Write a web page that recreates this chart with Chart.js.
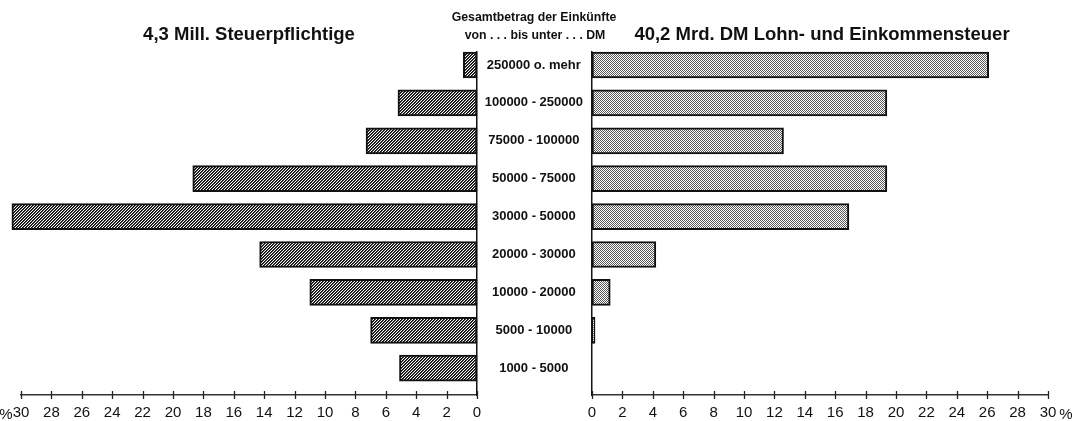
<!DOCTYPE html>
<html>
<head>
<meta charset="utf-8">
<script src="https://cdn.jsdelivr.net/npm/chart.js@4.4.1/dist/chart.umd.min.js"></script>
<style>
  html, body { margin: 0; padding: 0; background: #fff; }
  #wrap { position: relative; width: 1075px; height: 421px; overflow: hidden; background: #fff; }
  canvas { position: absolute; top: 0; }
  .t { position: absolute; color: #111; white-space: nowrap; transform: translate(-50%, -50%); }
  .title { font: bold 18.5px 'Liberation Sans', Arial, sans-serif; }
  .head { font: bold 12.3px 'Liberation Sans', Arial, sans-serif; }
  .pct { font: 15px 'Liberation Sans', Arial, sans-serif; }
</style>
</head>
<body>
<div id="wrap">
  <canvas id="left" width="492" height="421" style="left:0px"></canvas>
  <canvas id="right" width="597" height="421" style="left:478px"></canvas>
  <div class="t title" style="left:249px; top:34px">4,3 Mill. Steuerpflichtige</div>
  <div class="t title" style="left:822px; top:34px">40,2 Mrd. DM Lohn- und Einkommensteuer</div>
  <div class="t head" style="left:534px; top:17px">Gesamtbetrag der Einkünfte</div>
  <div class="t head" style="left:535px; top:35px">von . . . bis unter . . . DM</div>
  <div class="t pct" style="left:6px; top:413px">%</div>
  <div class="t pct" style="left:1066px; top:413px">%</div>
</div>
<script>
// ---- data ----
const categories = ['250000 o. mehr', '100000 - 250000', '75000 - 100000', '50000 - 75000',
  '30000 - 50000', '20000 - 30000', '10000 - 20000', '5000 - 10000', '1000 - 5000'];
const taxpayersPct = [0.9, 5.2, 7.3, 18.7, 30.6, 14.3, 11.0, 7.0, 5.1];   // 4,3 Mill. Steuerpflichtige
const taxAmountPct = [26.1, 19.4, 12.6, 19.4, 16.9, 4.2, 1.2, 0.2, 0.0];  // 40,2 Mrd. DM Steuer
const axisMin = 0, axisMax = 30, axisStep = 2;

// ---- patterns ----
function makeTile(size, fn) {
  const c = document.createElement('canvas');
  c.width = size; c.height = size;
  const g = c.getContext('2d');
  const img = g.createImageData(size, size);
  for (let y = 0; y < size; y++) for (let x = 0; x < size; x++) {
    const v = fn(x, y), k = (y * size + x) * 4;
    img.data[k] = img.data[k + 1] = img.data[k + 2] = v; img.data[k + 3] = 255;
  }
  g.putImageData(img, 0, 0);
  return c;
}
const ctxL = document.getElementById('left').getContext('2d');
const ctxR = document.getElementById('right').getContext('2d');
const hatchTile = makeTile(3, (x, y) => { const m = (x + y) % 3; return m === 0 ? 0 : (m === 1 ? 70 : 255); });
const dotTile = makeTile(2, (x, y) => ((x + y) % 2 === 0 ? 90 : 255));
const hatch = ctxL.createPattern(hatchTile, 'repeat');
const dots = ctxR.createPattern(dotTile, 'repeat');

const INK = '#111';
const tickFont = { family: "'Liberation Sans', Arial, sans-serif", size: 15, lineHeight: 1 };
const catFont = { family: "'Liberation Sans', Arial, sans-serif", size: 13, weight: 'bold', lineHeight: 1 };

// tick marks that cross the axis line
const crossTicks = {
  id: 'crossTicks',
  afterDraw(chart) {
    const s = chart.scales.x, ctx = chart.ctx, yb = chart.chartArea.bottom;
    ctx.save();
    ctx.strokeStyle = '#222'; ctx.lineWidth = 1.3;
    s.ticks.forEach(t => {
      const px = Math.round(s.getPixelForValue(t.value)) + 0.5;
      ctx.beginPath(); ctx.moveTo(px, yb - 4); ctx.lineTo(px, yb + 4); ctx.stroke();
    });
    ctx.restore();
  }
};

const yMin = -0.343, yMax = 8.707;

function zeroPad(s) { s.paddingLeft = 0; s.paddingRight = 0; s.paddingTop = 0; s.paddingBottom = 0; }

function baseOptions(reverseX, yPos, showCats) {
  return {
    responsive: false, maintainAspectRatio: false, animation: false, devicePixelRatio: 1,
    indexAxis: 'y',
    layout: reverseX ? { padding: { left: 21, right: 15, top: 52, bottom: 0 } }
                     : { padding: { left: 0, right: 27, top: 52, bottom: 0 } },
    plugins: { legend: { display: false }, tooltip: { enabled: false }, title: { display: false } },
    scales: {
      x: {
        type: 'linear', reverse: reverseX, min: axisMin, max: axisMax,
        afterFit: s => { zeroPad(s); s.height = 26; },
        ticks: { stepSize: axisStep, color: INK, font: tickFont, padding: 10, maxRotation: 0, autoSkip: false },
        grid: { display: false, drawTicks: false },
        border: { display: true, color: '#333', width: 1.5 }
      },
      y: {
        type: 'linear', reverse: true, offset: false, min: yMin, max: yMax, position: yPos,
        afterBuildTicks: s => { s.ticks = categories.map((c, i) => ({ value: i })); },
        afterFit: s => { zeroPad(s); s.width = showCats ? 114 : 0; },
        ticks: {
          display: showCats, autoSkip: false, color: INK, font: catFont, padding: 9,
          crossAlign: 'center',
          callback: v => categories[v]
        },
        grid: { display: false, drawTicks: false },
        border: { display: true, color: INK, width: 1.5 }
      }
    }
  };
}

function dataset(values, fill) {
  return {
    data: values.map((v, i) => ({ x: v, y: i })),
    backgroundColor: fill, borderColor: INK, borderWidth: 2, borderSkipped: false,
    barThickness: 26, clip: false
  };
}

new Chart(ctxL, {
  type: 'bar',
  data: { datasets: [dataset(taxpayersPct, hatch)] },
  options: baseOptions(true, 'right', false),
  plugins: [crossTicks]
});
new Chart(ctxR, {
  type: 'bar',
  data: { datasets: [dataset(taxAmountPct, dots)] },
  options: baseOptions(false, 'left', true),
  plugins: [crossTicks]
});
</script>
</body>
</html>
